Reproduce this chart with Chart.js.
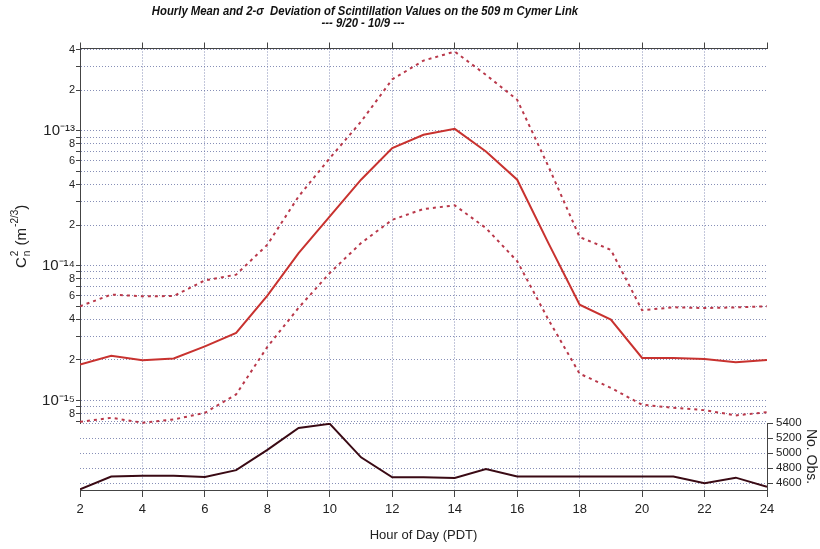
<!DOCTYPE html>
<html>
<head>
<meta charset="utf-8">
<script src="https://cdn.jsdelivr.net/npm/chart.js@4.4.1/dist/chart.umd.min.js"></script>
<style>
  html, body { margin: 0; padding: 0; background: #fff; }
  canvas { display: block; }
</style>
</head>
<body>
<canvas id="chart" width="820" height="549"></canvas>
<script>
const hours = [2,3,4,5,6,7,8,9,10,11,12,13,14,15,16,17,18,19,20,21,22,23,24];
const cnMean  = [1.85e-15,2.15e-15,1.99e-15,2.05e-15,2.52e-15,3.17e-15,6.0e-15,1.24e-14,2.32e-14,4.34e-14,7.44e-14,9.34e-14,1.035e-13,7.03e-14,4.34e-14,1.47e-14,5.14e-15,3.98e-15,2.07e-15,2.07e-15,2.03e-15,1.92e-15,2.0e-15];
const cnUpper = [5.0e-15,6.1e-15,5.93e-15,5.95e-15,7.78e-15,8.58e-15,1.43e-14,3.26e-14,6.28e-14,1.17e-13,2.41e-13,3.32e-13,3.87e-13,2.6e-13,1.7e-13,5.45e-14,1.63e-14,1.31e-14,4.67e-15,4.91e-15,4.85e-15,4.9e-15,5.0e-15];
const cnLower = [6.95e-16,7.44e-16,6.84e-16,7.23e-16,8.1e-16,1.11e-15,2.5e-15,4.87e-15,8.83e-15,1.47e-14,2.19e-14,2.63e-14,2.8e-14,1.9e-14,1.08e-14,3.98e-15,1.58e-15,1.24e-15,9.3e-16,8.83e-16,8.48e-16,7.75e-16,8.2e-16];
const obsCount = [4520,4690,4700,4700,4685,4775,5045,5335,5390,4945,4680,4680,4670,4790,4690,4690,4690,4690,4690,4690,4600,4675,4555];

const cnTickMantissas = [1,2,3,4,5,6,7,8,9];
const cnTickDecades = [-16,-15,-14,-13];
const cnLabelMantissas = [1,2,4,6,8];
const obsTicks = [4600,4800,5000,5200,5400];

const cnMin = 6.8e-16, cnMax = 4.08e-13;
let cnTicks = [];
cnTickDecades.forEach(d => {
  cnTickMantissas.forEach(m => {
    let v = parseFloat(m + 'e' + d);
    if (v >= 7e-16 && v <= cnMax) cnTicks.push(v);
  });
});

const FONT = "'Liberation Sans', Arial, sans-serif";
const gridColor = 'rgba(105,115,165,0.8)';
const axisColor = '#444';
const sup = {'-':'\u207B','0':'\u2070','1':'\u00B9','2':'\u00B2','3':'\u00B3','4':'\u2074','5':'\u2075','6':'\u2076','7':'\u2077','8':'\u2078','9':'\u2079'};

function splitLog(v) {
  let e = Math.floor(Math.log10(v) + 1e-9);
  return {m: Math.round(v / Math.pow(10, e)), e: e};
}

function pts(ys) { return hours.map((h, i) => ({x: h, y: ys[i]})); }

const titlePlugin = {
  id: 'titles',
  afterDraw(chart) {
    const ctx = chart.ctx;
    // the original title font is a narrow one, so squeeze it a bit
    const sx = 0.87;
    ctx.save();
    ctx.scale(sx, 1);
    ctx.fillStyle = '#111';
    ctx.textAlign = 'center';
    ctx.textBaseline = 'alphabetic';
    ctx.font = 'italic bold 13px ' + FONT;
    ctx.fillText('Hourly Mean and 2-\u03C3  Deviation of Scintillation Values on the 509 m Cymer Link', 365 / sx, 14.5);
    ctx.fillText('--- 9/20 - 10/9 ---', 363 / sx, 27);
    ctx.restore();

    // y title  Cn^2 (m^-2/3)
    ctx.save();
    ctx.translate(26, 268);
    ctx.rotate(-Math.PI / 2);
    ctx.fillStyle = '#222';
    ctx.textAlign = 'left';
    ctx.textBaseline = 'alphabetic';
    let x = 0;
    ctx.font = '15px ' + FONT;
    ctx.fillText('C', x, 0); x += ctx.measureText('C').width + 1;
    ctx.font = '10px ' + FONT;
    ctx.fillText('2', x, -8);
    ctx.fillText('n', x, 4);
    x += ctx.measureText('n').width + 1;
    ctx.font = '15px ' + FONT;
    ctx.fillText(' (m', x, 0); x += ctx.measureText(' (m').width + 1;
    ctx.font = '10px ' + FONT;
    ctx.fillText('-2/3', x, -8); x += ctx.measureText('-2/3').width;
    ctx.font = '15px ' + FONT;
    ctx.fillText(')', x, 0);
    ctx.restore();
  }
};

Chart.defaults.font.family = FONT;
Chart.defaults.color = '#222';

new Chart('chart', {
  type: 'line',
  data: {
    datasets: [
      {label: 'mean', data: pts(cnMean), yAxisID: 'y', borderColor: '#c8322f', borderWidth: 2, pointRadius: 0, tension: 0},
      {label: 'mean + 2 sigma', data: pts(cnUpper), yAxisID: 'y', borderColor: '#b9384a', borderWidth: 2, borderDash: [3, 4], pointRadius: 0, tension: 0},
      {label: 'mean - 2 sigma', data: pts(cnLower), yAxisID: 'y', borderColor: '#b9384a', borderWidth: 2, borderDash: [3, 4], pointRadius: 0, tension: 0, clip: 3},
      {label: 'obs', data: pts(obsCount), yAxisID: 'y2', borderColor: '#3a0a14', borderWidth: 2, pointRadius: 0, tension: 0}
    ]
  },
  options: {
    responsive: false,
    animation: false,
    layout: {padding: 0},
    plugins: {legend: {display: false}, tooltip: {enabled: false}},
    scales: {
      x: {
        type: 'linear', position: 'bottom', min: 2, max: 24,
        ticks: {stepSize: 2, autoSkip: false, maxRotation: 0, padding: 5, font: {size: 13}, color: '#222'},
        grid: {
          color: c => (c.tick && (c.tick.value === 2 || c.tick.value === 24)) ? 'rgba(0,0,0,0)' : gridColor,
          tickColor: axisColor, tickLength: 7
        },
        border: {color: axisColor, dash: [1, 2]},
        title: {display: true, text: 'Hour of Day (PDT)', font: {size: 13}, color: '#222', padding: {top: 0, bottom: 6}},
        afterFit: s => { s.height = 59; }
      },
      x2: {
        type: 'linear', position: 'top', min: 2, max: 24,
        ticks: {stepSize: 2, display: false},
        grid: {drawOnChartArea: false, tickColor: axisColor, tickLength: 6},
        border: {color: axisColor},
        afterFit: s => { s.height = 48.5; }
      },
      // left stack is laid out in reverse order, so the spacer comes first
      yPadL: {type: 'linear', position: 'left', stack: 'left', stackWeight: 67, display: false},
      y: {
        type: 'logarithmic', position: 'left', stack: 'left', stackWeight: 375,
        min: cnMin, max: cnMax,
        afterBuildTicks: s => { s.ticks = cnTicks.map(v => ({value: v})); },
        ticks: {
          autoSkip: false, padding: 1, color: '#222',
          font: c => (c.tick && splitLog(c.tick.value).m === 1) ? {size: 15} : {size: 11},
          callback: v => {
            let p = splitLog(v);
            if (!cnLabelMantissas.includes(p.m)) return '';
            if (p.m === 1) return '10' + String(p.e).split('').map(ch => sup[ch]).join('');
            return String(p.m);
          }
        },
        grid: {color: gridColor, tickColor: axisColor, tickLength: 4},
        border: {color: axisColor, dash: [1, 2]},
        afterFit: s => { s.width = 80; }
      },
      yPadR: {type: 'linear', position: 'right', stack: 'right', stackWeight: 375, display: false},
      y2: {
        type: 'linear', position: 'right', stack: 'right', stackWeight: 67,
        min: 4511, max: 5400,
        afterBuildTicks: s => { s.ticks = obsTicks.map(v => ({value: v})); },
        ticks: {autoSkip: false, padding: 3, font: {size: 11.5}, color: '#222', callback: v => String(v)},
        grid: {color: gridColor, tickColor: axisColor, tickLength: 6},
        border: {color: axisColor, dash: [1, 2]},
        title: {display: true, text: 'No. Obs.', font: {size: 14}, color: '#222', padding: {top: 1, bottom: 0}},
        afterFit: s => { s.width = 53; }
      }
    }
  },
  plugins: [titlePlugin]
});
</script>
</body>
</html>
